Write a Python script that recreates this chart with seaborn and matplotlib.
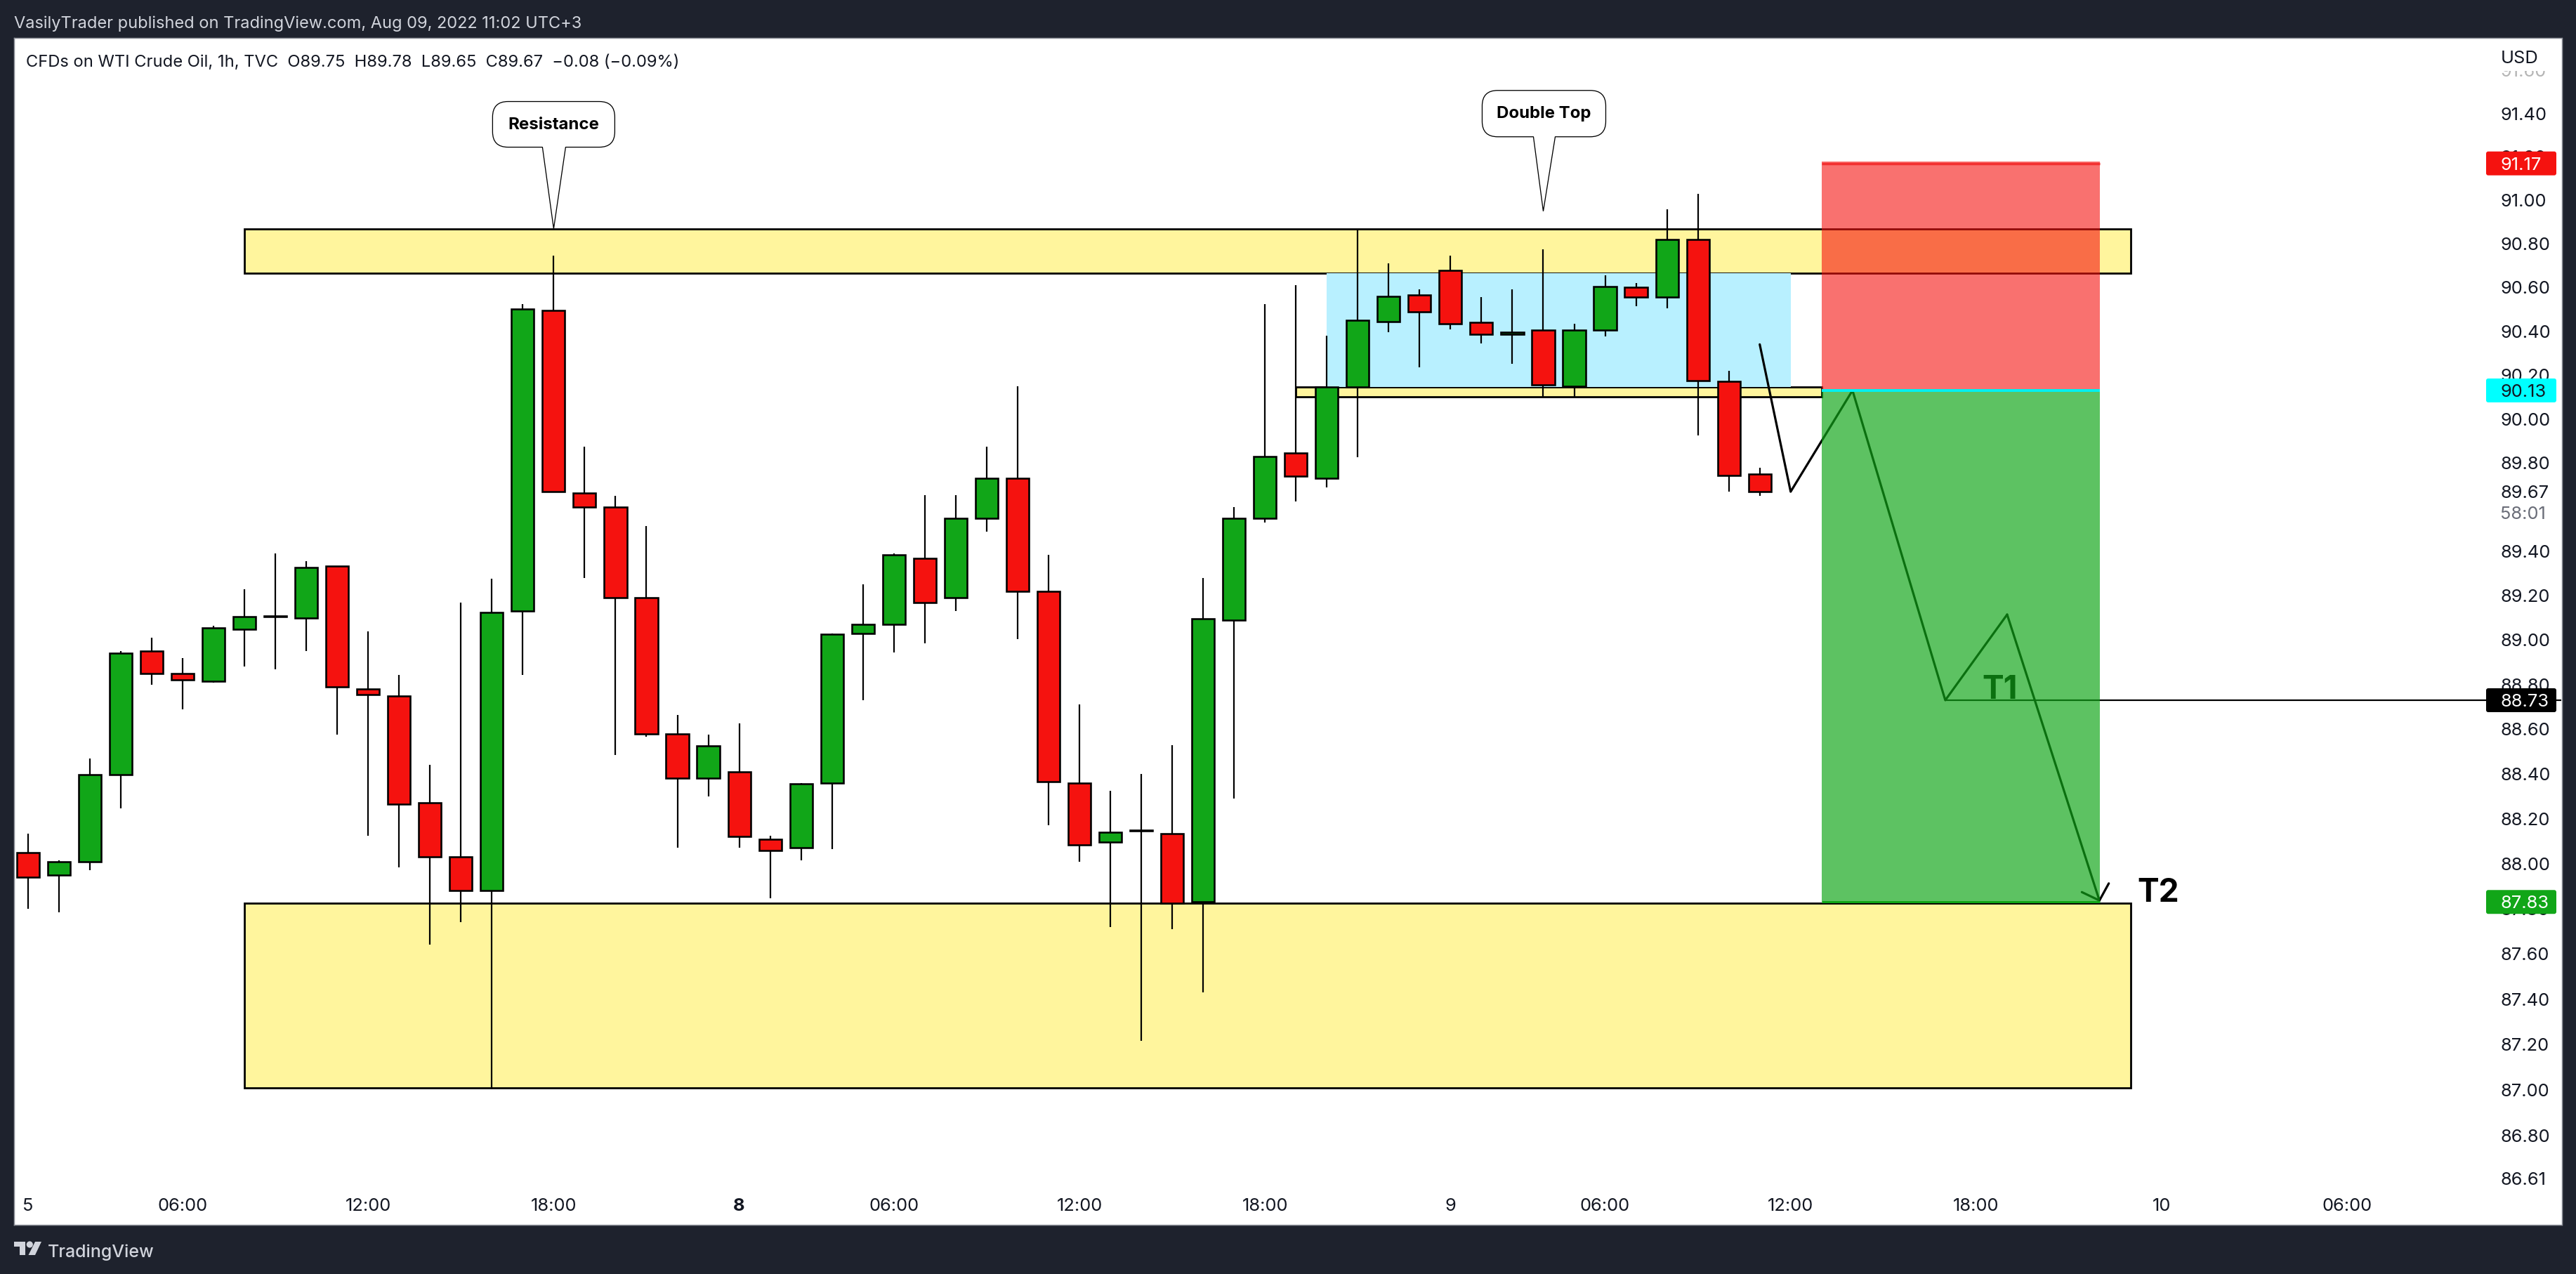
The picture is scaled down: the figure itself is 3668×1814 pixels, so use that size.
import numpy as np
import pandas as pd
import matplotlib
matplotlib.use("Agg")
import matplotlib.pyplot as plt
import seaborn as sns
from matplotlib.patches import Rectangle, Circle, Polygon, PathPatch, FancyBboxPatch
from matplotlib.path import Path
from matplotlib.transforms import IdentityTransform

# hourly candles
opens = [88.05, 87.95, 88.01, 88.396, 88.95, 88.85, 88.815, 89.05, 89.105, 89.10,
         89.333, 88.78, 88.75, 88.27, 88.03, 87.88, 89.13, 90.495, 89.665, 89.60,
         89.19, 88.58, 88.38, 88.41, 88.11, 88.07, 88.36, 89.03, 89.07, 89.37,
         89.19, 89.55, 89.73, 89.22, 88.36, 88.095, 88.145, 88.135, 87.83, 89.09,
         89.55, 89.845, 89.73, 90.145, 90.445, 90.565, 90.68, 90.44, 90.385, 90.405,
         90.15, 90.405, 90.60, 90.555, 90.82, 90.17, 89.75]
closes = [87.94, 88.01, 88.396, 88.94, 88.85, 88.82, 89.055, 89.105, 89.108, 89.326,
          88.79, 88.755, 88.265, 88.03, 87.88, 89.125, 90.50, 89.67, 89.60, 89.19,
          88.58, 88.38, 88.525, 88.12, 88.06, 88.355, 89.025, 89.07, 89.385, 89.17,
          89.55, 89.73, 89.22, 88.365, 88.085, 88.14, 88.148, 87.825, 89.095, 89.55,
          89.83, 89.74, 90.145, 90.45, 90.56, 90.49, 90.435, 90.385, 90.395, 90.155,
          90.405, 90.605, 90.555, 90.82, 90.175, 89.745, 89.67]
highs = [88.135, 88.015, 88.47, 88.95, 89.01, 88.92, 89.065, 89.23, 89.39, 89.355,
         89.335, 89.04, 88.845, 88.44, 89.17, 89.275, 90.525, 90.745, 89.875, 89.65,
         89.515, 88.665, 88.575, 88.625, 88.125, 88.36, 89.03, 89.25, 89.39, 89.655,
         89.655, 89.875, 90.15, 89.385, 88.71, 88.325, 88.40, 88.53, 89.28, 89.60,
         90.525, 90.61, 90.38, 90.87, 90.71, 90.59, 90.745, 90.555, 90.59, 90.775,
         90.435, 90.655, 90.62, 90.96, 91.03, 90.22, 89.78]
lows = [87.80, 87.785, 87.97, 88.245, 88.80, 88.69, 88.81, 88.88, 88.87, 88.95,
        88.575, 88.125, 87.985, 87.64, 87.74, 87.005, 88.845, 89.67, 89.28, 88.485,
        88.565, 88.07, 88.30, 88.07, 87.845, 88.015, 88.065, 88.73, 88.945, 88.985,
        89.13, 89.49, 89.005, 88.17, 88.01, 87.72, 87.215, 87.71, 87.43, 88.29,
        89.53, 89.625, 89.69, 89.825, 90.395, 90.235, 90.41, 90.345, 90.25, 90.10,
        90.10, 90.375, 90.515, 90.505, 89.925, 89.67, 89.65]

# x axis
x_tick_pos = [0, 5, 11, 17, 23, 28, 34, 40, 46, 51, 57, 63, 69, 75]
x_tick_labels = ["5", "06:00", "12:00", "18:00", "8", "06:00", "12:00", "18:00",
                 "9", "06:00", "12:00", "18:00", "10", "06:00"]

# price axis
y_ticks = [86.61, 86.80, 87.00, 87.20, 87.40, 87.60, 87.80, 88.00, 88.20, 88.40, 88.60,
           88.80, 89.00, 89.20, 89.40, 89.60, 89.80, 90.00, 90.20, 90.40, 90.60, 90.80,
           91.00, 91.20, 91.40, 91.60]

# drawings
upper_zone = [7, 68, 90.665, 90.868]
lower_zone = [7, 68, 87.01, 87.825]
small_zone = [41, 58, 90.10, 90.145]
blue_zone = [42, 57, 90.145, 90.665]
stop_zone = [58, 67, 90.13, 91.18]
target_zone = [58, 67, 87.83, 90.13]
stop_price = 91.17
entry_price = 90.13
t1_price = 88.73
t2_price = 87.83
last_close = 89.67
path_x = [56, 57, 59, 62, 64]
path_y = [90.34, 89.67, 90.13, 88.73, 89.115]
arrow_tip = [67, 87.83]

GREEN = "#11A618"
RED = "#F5120F"
YELLOW = "#FFF59D"
DARK = "#1E222D"
W, H = 3668, 1814

sns.set_theme(style="white")
plt.rcParams["font.family"] = ["Inter", "DejaVu Sans"]


def pt(px):
    return px / 1.389


df = pd.DataFrame({"bar": np.arange(len(opens)), "open": opens, "close": closes,
                   "high": highs, "low": lows})
df["bottom"] = df[["open", "close"]].min(axis=1)
df["height"] = (df["close"] - df["open"]).abs()
up = df[df["close"] >= df["open"]]
down = df[df["close"] < df["open"]]

fig = plt.figure(figsize=(W / 100, H / 100), dpi=100, facecolor=DARK)
ax = fig.add_axes([20 / W, (H - 1743.5) / H, 3627.5 / W, 1689.5 / H], facecolor="white")

ax.vlines(df["bar"], df["low"], df["high"], color="black", lw=pt(2.2), zorder=2.9)
for part, col in [(up, GREEN), (down, RED)]:
    sns.barplot(data=part, x="bar", y="height", bottom=part["bottom"].to_numpy(), native_scale=True,
                orient="x", color=col, saturation=1, width=0.73, errorbar=None,
                edgecolor="black", linewidth=pt(2.6), zorder=3, ax=ax)

sns.lineplot(x=path_x, y=path_y, sort=False, estimator=None, color="black", lw=pt(3.2),
             zorder=3.5, ax=ax)

ax.set_yscale("log")
ax.set_xlim(-0.45, 81.93)
ax.set_ylim(86.41, 91.75)
ax.minorticks_off()
ax.yaxis.tick_right()
ax.set_yticks(y_ticks)
ax.set_yticklabels(["%.2f" % v for v in y_ticks])
ax.yaxis.set_minor_locator(matplotlib.ticker.NullLocator())
ax.set_xticks(x_tick_pos)
ax.set_xticklabels(x_tick_labels)
ax.set_xlabel("")
ax.set_ylabel("")
ax.tick_params(axis="y", length=0, pad=-pt(87), labelsize=pt(25.5), labelcolor="#131722")
ax.tick_params(axis="x", length=0, pad=-pt(38), labelsize=pt(25.5), labelcolor="#131722")
ax.get_xticklabels()[4].set_fontweight("bold")
ax.get_yticklabels()[-1].set_color("#b5b5b5")
for s in ax.spines.values():
    s.set_color("#8f929a")
    s.set_linewidth(pt(1.5))


def zone(bounds, face, edge="black", lw=2.8, z=1.0, alpha=None):
    x0, x1, y0, y1 = bounds
    ax.add_patch(Rectangle((x0, y0), x1 - x0, y1 - y0, facecolor=face, edgecolor=edge,
                           lw=pt(lw), zorder=z, alpha=alpha))


zone(upper_zone, YELLOW)
zone(lower_zone, YELLOW)
zone(small_zone, YELLOW)
zone(blue_zone, "#B8F0FF", edge="none", lw=0, z=1.1)

ax.annotate("", xy=arrow_tip, xytext=(path_x[-1], path_y[-1]), zorder=3.5,
            arrowprops=dict(arrowstyle="->,head_length=0.68,head_width=0.72", color="black",
                            lw=pt(3.2), shrinkA=0, shrinkB=0, mutation_scale=pt(28)))
ax.hlines(t1_price, path_x[3], 81.93, color="black", lw=pt(2.2), zorder=3.5)
ax.text(63.2, t1_price + 0.005, "T1", fontsize=pt(46), fontweight="bold", color="black",
        ha="left", va="baseline", zorder=3.5)
ax.text(68.2, t2_price, "T2", fontsize=pt(46), fontweight="bold", color="black",
        ha="left", va="baseline", zorder=3.5)

zone(stop_zone, RED, edge="none", lw=0, z=4, alpha=0.6)
zone(target_zone, GREEN, edge="none", lw=0, z=4, alpha=0.68)
ax.hlines(stop_price, stop_zone[0], stop_zone[1], color="#F23030", lw=pt(3.5), zorder=4.2)
ax.hlines(entry_price, stop_zone[0], stop_zone[1], color="#00F0F0", lw=pt(4), zorder=4.2)
ax.hlines(t2_price, stop_zone[0], stop_zone[1], color=GREEN, lw=pt(3), zorder=4.2)


def to_px(idx, price):
    xd, yd = ax.transData.transform((idx, price))
    return xd, yd


def callout(idx, price, left, right, top, bottom, t0, t1, text, text_y):
    # offsets in pixels from the tip, y going down
    tx, ty = to_px(idx, price)
    r = 22
    pts = [(left + r, bottom), (t0, bottom), (0, 0), (t1, bottom), (right - r, bottom), (right, bottom),
           (right, bottom - r), (right, top + r), (right, top), (right - r, top), (left + r, top),
           (left, top), (left, top + r), (left, bottom - r), (left, bottom), (left + r, bottom),
           (left + r, bottom)]
    codes = [Path.MOVETO, Path.LINETO, Path.LINETO, Path.LINETO, Path.LINETO, Path.CURVE3, Path.CURVE3,
             Path.LINETO, Path.CURVE3, Path.CURVE3, Path.LINETO, Path.CURVE3, Path.CURVE3, Path.LINETO,
             Path.CURVE3, Path.CURVE3, Path.CLOSEPOLY]
    verts = [(tx + a, ty - b) for a, b in pts]
    ax.add_patch(PathPatch(Path(verts, codes), transform=IdentityTransform(), facecolor="white",
                           edgecolor="black", lw=pt(1.3), zorder=3.6, clip_on=False))
    ax.text(tx + (left + right) / 2, ty - text_y, text, transform=IdentityTransform(), fontsize=pt(24),
            fontweight="bold", color="black", ha="center", va="center", zorder=3.7)


callout(17, 90.87, -87, 87, -181, -116, -16, 17, "Resistance", -148)
callout(49, 90.95, -87, 89, -172, -106, -14, 17, "Double Top", -139)


def badge(price, face, txt_color):
    _, yd = to_px(0, price)
    ax.add_patch(FancyBboxPatch((3543, yd - 14), 94, 28, boxstyle="round,pad=3,rounding_size=3",
                                transform=IdentityTransform(), facecolor=face, edgecolor="none",
                                zorder=5, clip_on=False))
    ax.text(3560, yd, "%.2f" % price, transform=IdentityTransform(), fontsize=pt(25.5), color=txt_color,
            ha="left", va="center_baseline", zorder=6)


badge(stop_price, RED, "white")
badge(entry_price, "#00FFFF", "#131722")
badge(t1_price, "black", "white")
badge(t2_price, GREEN, "white")

# last price with countdown, hiding the tick label behind it
_, yd = to_px(0, last_close)
ax.add_patch(Rectangle((3550, yd - 46), 90, 60, transform=IdentityTransform(), facecolor="white",
                       edgecolor="none", zorder=5))
ax.text(3560, yd, "%.2f" % last_close, transform=IdentityTransform(), fontsize=pt(25.5), color="#131722",
        ha="left", va="center_baseline", zorder=6)
ax.text(3560, yd - 30, "58:01", transform=IdentityTransform(), fontsize=pt(25.5), color="#6a6d78",
        ha="left", va="center_baseline", zorder=6)

# USD box hides the top of the highest tick label
ax.add_patch(Rectangle((3550, H - 101), 90, 45, transform=IdentityTransform(), facecolor="white",
                       edgecolor="none", zorder=5))
ax.text(3561, H - 81, "USD", transform=IdentityTransform(), fontsize=pt(25.5), color="#131722",
        ha="left", va="center_baseline", zorder=6)

ax.text(37, H - 86, "CFDs on WTI Crude Oil, 1h, TVC  O89.75  H89.78  L89.65  C89.67  \u22120.08 (\u22120.09%)",
        transform=IdentityTransform(), fontsize=pt(23.75), color="#131722", ha="left", va="center_baseline", zorder=6)

# header and footer
fig.text(20 / W, 1 - 31 / H, "VasilyTrader published on TradingView.com, Aug 09, 2022 11:02 UTC+3",
         fontsize=pt(23.6), color="#D1D4DC", ha="left", va="center_baseline")
fig.text(68 / W, 1 - 1781 / H, "TradingView", fontsize=pt(25), fontweight="medium", color="#D1D4DC",
         ha="left", va="center_baseline")
for verts in ([(20, 1768), (36, 1768), (36, 1787), (27.5, 1787), (27.5, 1775), (20, 1775)],
              [(50, 1768), (59, 1768), (50, 1787), (40.5, 1787)]):
    fig.add_artist(Polygon([(a, H - b) for a, b in verts], transform=IdentityTransform(),
                           facecolor="#D1D4DC", edgecolor="none"))
fig.add_artist(Circle((42.3, H - 1772), 4.6, transform=IdentityTransform(), facecolor="#D1D4DC",
                      edgecolor="none"))

fig.savefig("out.png", dpi=100, facecolor=DARK)
